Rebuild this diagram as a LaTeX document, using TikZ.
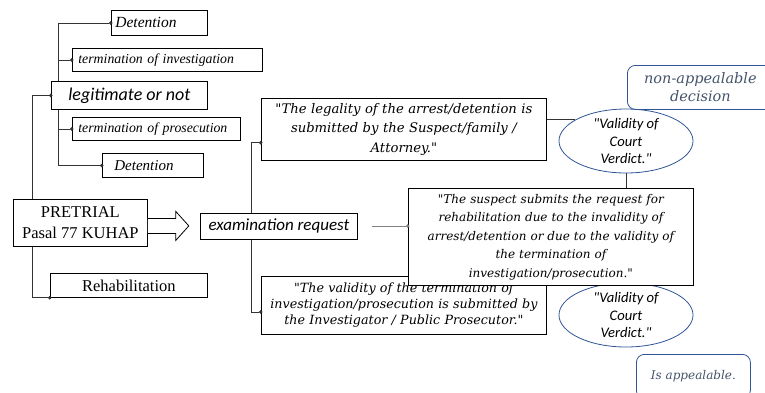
\documentclass[tikz,border=0pt]{standalone}
\usepackage{fontspec}
\setmainfont{Liberation Serif}
\newfontfamily\calfont{Carlito}
\newfontfamily\qfont{DejaVu Serif}
\newfontfamily\tfont{Liberation Serif}
\usetikzlibrary{calc,shapes.geometric,arrows.meta}
\definecolor{bblue}{RGB}{47,85,151}
\definecolor{gtext}{RGB}{68,84,106}
\begin{document}
\begin{tikzpicture}[x=1pt,y=-1pt,
  box/.style={draw, line width=0.8pt, fill=white, inner sep=0pt, anchor=north west},
  conn/.style={draw=black!80, line width=0.7pt},
  dotend/.style={-{Circle[length=3.5pt]}, shorten >=-1.5pt},
  small/.style={font=\tfont\itshape\fontsize{13.8}{16}\selectfont},
  cal/.style={font=\calfont\itshape\fontsize{#1}{#1}\selectfont},
  quote/.style n args={2}{font=\qfont\itshape\fontsize{#1}{#2}\selectfont, align=center},
  oval/.style={draw=bblue, line width=0.8pt, ellipse, fill=white, inner sep=0pt,
    minimum width=134pt, minimum height=63pt, align=center,
    font=\calfont\itshape\fontsize{14.6}{17.5}\selectfont},
  note/.style={draw=bblue, line width=0.8pt, rounded corners=8pt, anchor=north west,
    inner sep=0pt, align=center, text=gtext}
]
\useasboundingbox (0,0) rectangle (765,392);

% left tree
\node[box, inner xsep=4pt, text width=88pt, minimum height=25pt, align=left,
  font=\tfont\itshape\fontsize{15.5}{17}\selectfont] (det1) at (111,10) {Detention};
\node[box, inner xsep=6pt, text width=178pt, minimum height=23pt, align=left, small] (inv) at (72,48) {termination of investigation};
\node[box, minimum width=156pt, minimum height=28pt, cal=18] (leg) at (51,81) {legitimate or not};
\node[box, inner xsep=6pt, text width=156pt, minimum height=23pt, align=left, small] (pros) at (72,117) {termination of prosecution};
\node[box, inner xsep=12pt, text width=77pt, minimum height=24pt, align=left,
  font=\tfont\itshape\fontsize{15}{17}\selectfont] (det2) at (102,153) {Detention};
\node[box, minimum width=134pt, minimum height=47pt, align=center,
  font=\tfont\fontsize{16.5}{21}\selectfont] (pre) at (13,199) {PRETRIAL\\Pasal 77 KUHAP};
\node[box, minimum width=157pt, minimum height=24pt,
  font=\tfont\fontsize{16.5}{18}\selectfont] (reh) at (50,273) {Rehabilitation};
\node[box, minimum width=157pt, minimum height=26pt, cal=17] (exam) at (200,213) {examination request};

\coordinate (xa) at (58,0);
\coordinate (xb) at (32,0);
\coordinate (xc) at (251,0);
\draw[conn, dotend] (xa |- leg.north) |- (det1.west);
\draw[conn, dotend] (xa |- inv.west) -- (inv.west);
\draw[conn, dotend] (xa |- leg.south) |- (det2.west);
\draw[conn, dotend] (xa |- pros.west) -- (pros.west);
\draw[conn, dotend] (xb |- pre.north) |- (leg.west);
\draw[conn, dotend] (xb |- pre.south) |- (reh.south west);

% fat arrow
\draw[line width=0.8pt, fill=white]
  ($(pre.east)+(0,-4.5)$) -- ++(28,0) -- ++(0,-7) -- ++(13,14.5) -- ++(-13,14.5)
  -- ++(0,-7) -- ($(pre.east)+(0,10.5)$);

% right part
\node[box, minimum width=285pt, minimum height=62pt, text width=285pt, quote={13.2}{19.5}] (q1) at (261,98)
  {"The legality of the arrest/detention is\hspace*{16pt}\\submitted by the Suspect/family /\hspace*{16pt}\\Attorney."\hspace*{16pt}};
\node[box, minimum width=285pt, minimum height=58pt, text width=285pt, quote={12.7}{16}] (q3) at (261,276)
  {"The validity of the termination of\\investigation/prosecution is submitted by\\the Investigator / Public Prosecutor."};
\node[oval] (e2) at (626,315) {"Validity of\\Court\\Verdict."};
\node[box, minimum width=285pt, minimum height=97pt, text width=285pt, quote={12}{18.5}] (q2) at (408,188)
  {"The suspect submits the request for\\rehabilitation due to the invalidity of\\arrest/detention or due to the validity of\\the termination of\\investigation/prosecution."};
\node[oval] (e1) at (626,141) {"Validity of\\Court\\Verdict."};

\coordinate (q1in) at ($(q1.south west)+(0,-18)$);
\coordinate (q3in) at ($(q3.north west)+(0,36)$);
\coordinate (gs) at (372,226);
\draw[conn, dotend] (xc |- exam.north) |- (q1in);
\draw[conn, dotend] (xc |- exam.south) |- (q3in);
\draw[conn, draw=gray, dotend] (gs) -- (q2.west |- gs);
\draw[conn] (e1.157 -| q1.east) -- (e1.157);
\draw[conn] (e1.south) -- (e1.south |- q2.north);

\node[note, minimum width=146pt, minimum height=44pt,
  font=\qfont\itshape\fontsize{14.5}{18}\selectfont] (na) at (627,65) {non-appealable\\decision};
\node[note, minimum width=114pt, minimum height=44pt,
  font=\qfont\itshape\fontsize{12}{16}\selectfont] (ia) at (636,354) {Is appealable.};
\end{tikzpicture}
\end{document}
